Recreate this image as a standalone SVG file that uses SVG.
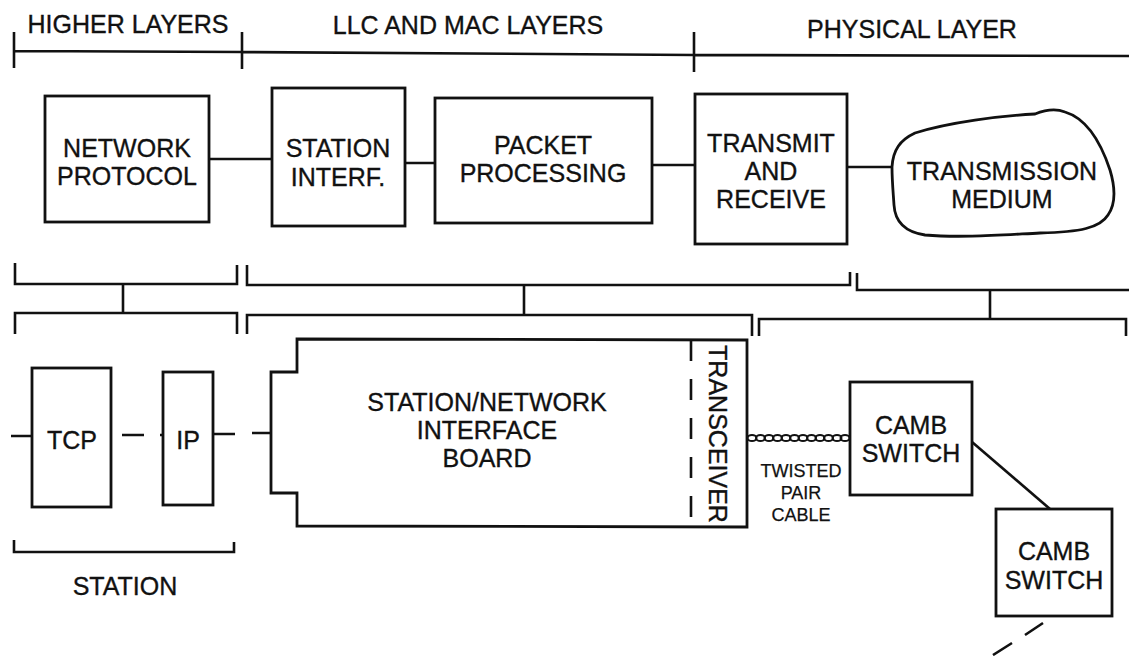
<svg xmlns="http://www.w3.org/2000/svg" width="1129" height="656" viewBox="0 0 1129 656">
<style>
text{font-family:"Liberation Sans",Arial,Helvetica,sans-serif;font-size:25px;fill:#111;stroke:#111;stroke-width:0.35;text-anchor:middle}
.s{font-size:18px;stroke-width:0.25}
.ln{fill:none;stroke:#111;stroke-width:2.6;stroke-linecap:butt}
.bx{fill:none;stroke:#111;stroke-width:2.8}
</style>
<rect width="1129" height="656" fill="#fff"/>
<g id="header">
<text x="128" y="33">HIGHER LAYERS</text>
<text x="468" y="34">LLC AND MAC LAYERS</text>
<text x="912" y="38">PHYSICAL LAYER</text>
<path class="ln" d="M14,32V68M242,32V69M694,32V72M14,51L242,52L694,55L1129,56"/>
</g>
<g id="brackets">
<path class="ln" d="M15,263V284H237V265M123,284V313M15,334V313H237V334"/>
<path class="ln" d="M247,265V285H850V272M524,285V315M247,334V315H752V336"/>
<path class="ln" d="M857,273V290H1129M990,290V319M759,336V319H1126V336"/>
<path class="ln" d="M14,540V552H234V542"/>
<text x="125" y="595">STATION</text>
</g>
<g id="connectors">
<path class="ln" d="M209,159H272M405,163H435M652,165H695M847,167H892"/>
<path class="ln" d="M11,436H32M122,435H144M160,435H163M213,434H235M252,433H271"/>
<path class="ln" d="M972,442L1050,509"/>
<path class="ln" d="M1043,623L1025,635M1012,643L993,655"/>
</g>
<g id="network-protocol">
<rect class="bx" x="45" y="96" width="164" height="126"/>
<text x="127" y="157">NETWORK</text>
<text x="127" y="185">PROTOCOL</text>
</g>
<g id="station-interf">
<rect class="bx" x="272" y="88" width="133" height="138"/>
<text x="338" y="157">STATION</text>
<text x="338" y="186">INTERF.</text>
</g>
<g id="packet-processing">
<rect class="bx" x="435" y="98" width="217" height="125"/>
<text x="543" y="154">PACKET</text>
<text x="543" y="182">PROCESSING</text>
</g>
<g id="transmit-receive">
<rect class="bx" x="695" y="94" width="152" height="150"/>
<text x="771" y="152">TRANSMIT</text>
<text x="771" y="180">AND</text>
<text x="771" y="208">RECEIVE</text>
</g>
<g id="transmission-medium">
<path class="bx" d="M892,167C893,150 900,140 915,133C950,122 1000,116 1035,114C1045,110 1055,108 1065,112C1085,118 1100,140 1110,170C1116,190 1115,205 1108,215C1100,228 1080,232 1040,233C1000,235 960,238 925,235C905,232 895,222 894,205C893,190 892,180 892,167Z"/>
<text x="1002" y="180">TRANSMISSION</text>
<text x="1002" y="208">MEDIUM</text>
</g>
<g id="tcp">
<rect class="bx" x="32" y="368" width="79" height="139"/>
<text x="72" y="449">TCP</text>
</g>
<g id="ip">
<rect class="bx" x="163" y="372" width="50" height="133"/>
<text x="188" y="449">IP</text>
</g>
<g id="interface-board">
<path class="bx" d="M297,339L747,340V527L297,526V493H271V372H297Z"/>
<path class="ln" d="M691,340V520" stroke-dasharray="21,18"/>
<text x="487" y="411">STATION/NETWORK</text>
<text x="487" y="439">INTERFACE</text>
<text x="487" y="467">BOARD</text>
<text transform="translate(709,434) rotate(90)">TRANSCEIVER</text>
</g>
<g id="twisted-pair">
<g fill="none" stroke="#111" stroke-width="2">
<ellipse cx="752" cy="438" rx="4.5" ry="3"/><ellipse cx="760.5" cy="438" rx="4.5" ry="3"/><ellipse cx="769" cy="438" rx="4.5" ry="3"/><ellipse cx="777.5" cy="438" rx="4.5" ry="3"/><ellipse cx="786" cy="438" rx="4.5" ry="3"/><ellipse cx="794.5" cy="438" rx="4.5" ry="3"/><ellipse cx="803" cy="438" rx="4.5" ry="3"/><ellipse cx="811.5" cy="438" rx="4.5" ry="3"/><ellipse cx="820" cy="438" rx="4.5" ry="3"/><ellipse cx="828.5" cy="438" rx="4.5" ry="3"/><ellipse cx="837" cy="438" rx="4.5" ry="3"/><ellipse cx="845" cy="438" rx="4.5" ry="3"/>
</g>
<text class="s" x="801" y="477">TWISTED</text>
<text class="s" x="801" y="499">PAIR</text>
<text class="s" x="801" y="521">CABLE</text>
</g>
<g id="camb-switch-1">
<rect class="bx" x="850" y="382" width="122" height="113"/>
<text x="911" y="434">CAMB</text>
<text x="911" y="462">SWITCH</text>
</g>
<g id="camb-switch-2">
<rect class="bx" x="996" y="509" width="116" height="107"/>
<text x="1054" y="560">CAMB</text>
<text x="1054" y="589">SWITCH</text>
</g>
</svg>
